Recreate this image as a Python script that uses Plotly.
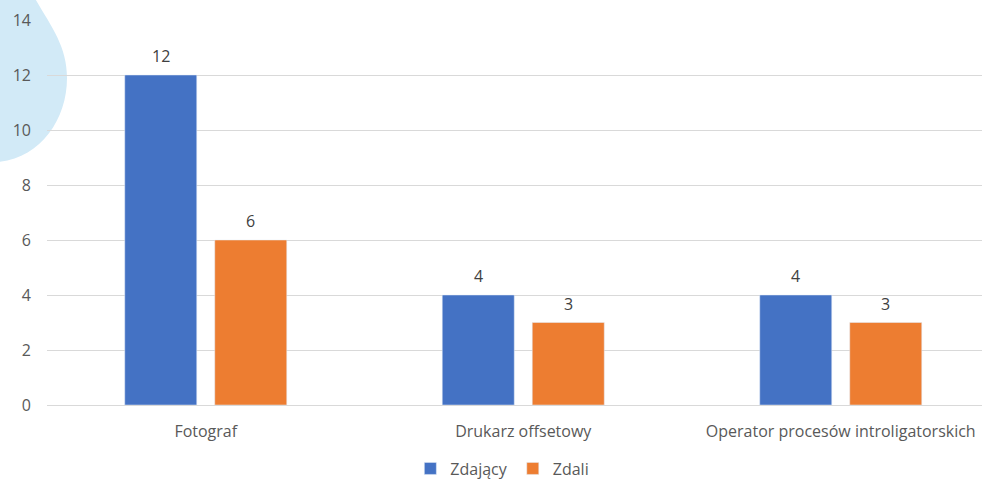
import plotly.graph_objects as go

categories = ["Fotograf", "Drukarz offsetowy", "Operator procesów introligatorskich"]
zdajacy = [12, 4, 4]
zdali = [6, 3, 3]
series_names = ["Zdający", "Zdali"]

W, H = 982, 479
ML, MR, MT, MB = 47, 0, 20, 74
PW, PH = W - ML - MR, H - MT - MB

def px(x):
    return (x - ML) / PW

def py(y):
    return (H - MB - y) / PH

p = [(33, -5), (50, 25), (67, 45), (67, 78), (67, 120), (40, 158), (-2, 162)]
path = "M {},{} C {},{} {},{} {},{} C {},{} {},{} {},{} L {},{} L {},{} Z".format(
    px(p[0][0]), py(p[0][1]),
    px(p[1][0]), py(p[1][1]), px(p[2][0]), py(p[2][1]), px(p[3][0]), py(p[3][1]),
    px(p[4][0]), py(p[4][1]), px(p[5][0]), py(p[5][1]), px(p[6][0]), py(p[6][1]),
    px(-5), py(165), px(-5), py(-5))

font_family = "'Open Sans', Lato, sans-serif"
FS = 16

fig = go.Figure()
fig.add_trace(go.Bar(x=categories, y=zdajacy, name=series_names[0], marker_color="#4472C4",
                     offsetgroup="a"))
fig.add_trace(go.Bar(x=categories, y=zdali, name=series_names[1], marker_color="#ED7D31",
                     offsetgroup="b"))

# data labels from the data arrays
ann = []
slot = 0.567 / 2
for vals, off in ((zdajacy, -slot / 2), (zdali, slot / 2)):
    for i, v in enumerate(vals):
        ann.append(dict(x=i + off, y=v, xref="x", yref="y", text=str(v), showarrow=False,
                        yanchor="bottom", yshift=6, font=dict(size=FS, color="#404040")))

fig.update_layout(
    width=W, height=H,
    margin=dict(l=ML, r=MR, t=MT, b=MB, autoexpand=False),
    paper_bgcolor="white", plot_bgcolor="rgba(0,0,0,0)",
    barmode="group", bargap=0.433, bargroupgap=0.2,
    font=dict(family=font_family, color="#595959", size=FS),
    shapes=[dict(type="path", xref="paper", yref="paper", path=path,
                 fillcolor="#D2EAF7", line=dict(width=0), layer="below")],
    annotations=ann,
    legend=dict(orientation="h", x=0.487, xanchor="center", y=-0.165, yanchor="middle",
                font=dict(size=FS, color="#595959"), itemwidth=30, tracegroupgap=0),
    showlegend=True,
    xaxis=dict(range=[-0.5, -0.5 + PW / 317.5], showgrid=False, ticks="", showline=True,
               linecolor="#D9D9D9", tickfont=dict(size=FS, color="#595959"), automargin=False,
               ticklabelstandoff=12),
    yaxis=dict(range=[0, 14], dtick=2, showgrid=True, gridcolor="#D9D9D9", zeroline=False,
               showline=False, tickfont=dict(size=FS, color="#595959"), ticklabelstandoff=15,
               automargin=False),
)

fig.write_html("out.html", config={"responsive": False, "displayModeBar": False},
               post_script="document.body.style.margin='0';document.body.style.overflow='hidden';")
